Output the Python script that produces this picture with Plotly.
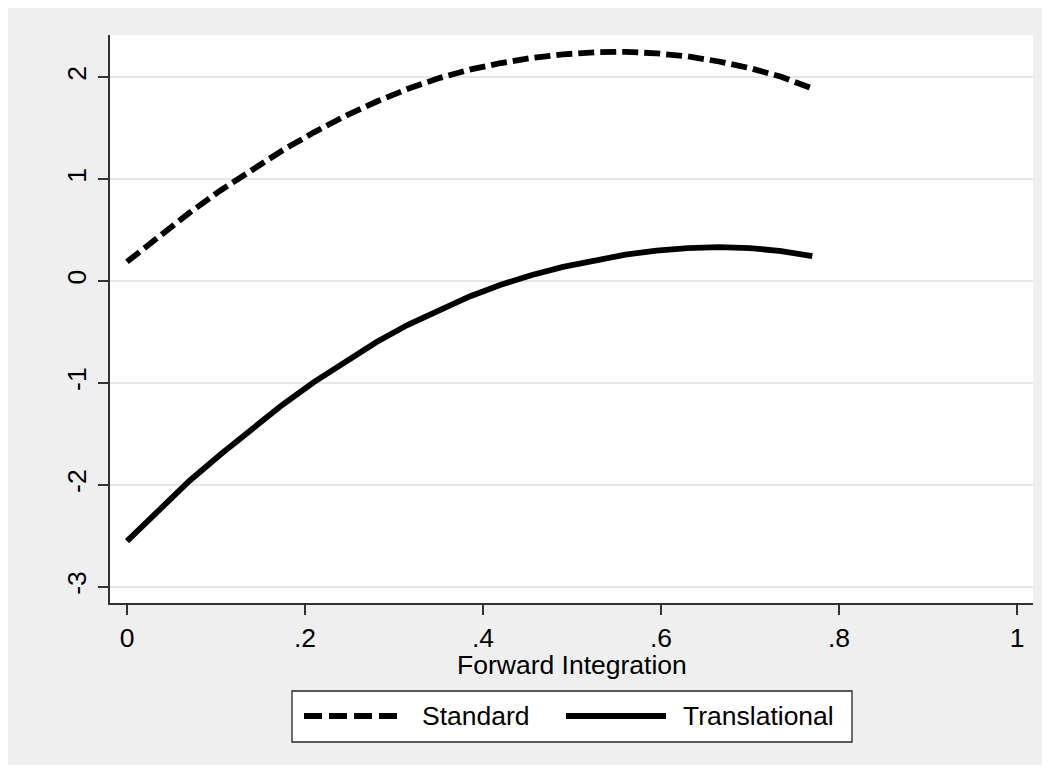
import plotly.graph_objects as go

# ---- data ----
x_vals = [0, 0.035, 0.07, 0.105, 0.14, 0.175, 0.21, 0.245, 0.28, 0.315, 0.35, 0.385,
          0.42, 0.455, 0.49, 0.525, 0.56, 0.595, 0.63, 0.665, 0.70, 0.735, 0.77]
standard = [0.19, 0.435, 0.67, 0.89, 1.095, 1.285, 1.46, 1.62, 1.76, 1.885, 1.99, 2.075,
            2.14, 2.19, 2.225, 2.245, 2.25, 2.235, 2.205, 2.155, 2.09, 2.005, 1.89]
translational = [-2.55, -2.25, -1.96, -1.70, -1.45, -1.21, -0.99, -0.79, -0.60, -0.43, -0.285, -0.15,
                 -0.035, 0.06, 0.14, 0.205, 0.26, 0.30, 0.325, 0.335, 0.325, 0.295, 0.245]
series_names = ["Standard", "Translational"]
x_ticks = [0, 0.2, 0.4, 0.6, 0.8, 1]
x_tick_labels = ["0", ".2", ".4", ".6", ".8", "1"]
y_ticks = [-3, -2, -1, 0, 1, 2]
y_tick_labels = ["-3", "-2", "-1", "0", "1", "2"]
x_title = "Forward Integration"

FONT = "Liberation Sans, Arial, sans-serif"
FS = 26.5
BG = "#efefef"
DASH = "16px,6px"
LW = 5.8

OFF = 8  # page body margin of the browser
W, H = 1050 - OFF, 771 - OFF
L, T = 110 - OFF, 35 - OFF
R = W - (1033 - OFF)
B = H - (603 - OFF)
pw, ph = W - L - R, H - T - B


def px_x(p):
    return (p - OFF - L) / pw


def px_y(p):
    return (H - B - (p - OFF)) / ph


fig = go.Figure()
fig.add_trace(go.Scatter(x=x_vals, y=standard, mode="lines", name=series_names[0],
                         line=dict(color="black", width=LW, dash=DASH), showlegend=False))
fig.add_trace(go.Scatter(x=x_vals, y=translational, mode="lines", name=series_names[1],
                         line=dict(color="black", width=LW), showlegend=False))

shapes = [
    # outer gray graph region
    dict(type="rect", xref="paper", yref="paper", layer="below",
         x0=px_x(5), x1=px_x(1045), y0=px_y(765), y1=px_y(7),
         fillcolor=BG, line=dict(width=0)),
    # white plot region
    dict(type="rect", xref="paper", yref="paper", layer="below",
         x0=0, x1=1, y0=0, y1=1, fillcolor="white", line=dict(width=0)),
    # legend box
    dict(type="rect", xref="paper", yref="paper",
         x0=px_x(292), x1=px_x(852), y0=px_y(742), y1=px_y(691),
         fillcolor="white", line=dict(color="#222222", width=1.3)),
    # legend samples
    dict(type="line", xref="paper", yref="paper",
         x0=px_x(304), x1=px_x(402), y0=px_y(716), y1=px_y(716),
         line=dict(color="black", width=LW, dash="18px,7px")),
    dict(type="line", xref="paper", yref="paper",
         x0=px_x(566), x1=px_x(666), y0=px_y(716), y1=px_y(716),
         line=dict(color="black", width=LW)),
]

annotations = [
    dict(text=x_title, xref="paper", yref="paper", x=px_x(572), y=px_y(665),
         xanchor="center", yanchor="middle", showarrow=False,
         font=dict(family=FONT, size=FS, color="black")),
    dict(text=series_names[0], xref="paper", yref="paper", x=px_x(420), y=px_y(716),
         xanchor="left", yanchor="middle", showarrow=False,
         font=dict(family=FONT, size=FS, color="black")),
    dict(text=series_names[1], xref="paper", yref="paper", x=px_x(681), y=px_y(716),
         xanchor="left", yanchor="middle", showarrow=False,
         font=dict(family=FONT, size=FS, color="black")),
]

fig.update_layout(
    width=W, height=H,
    margin=dict(l=L, r=R, t=T, b=B, pad=0),
    paper_bgcolor="white",
    plot_bgcolor="rgba(0,0,0,0)",
    font=dict(family=FONT, size=FS, color="black"),
    shapes=shapes,
    annotations=annotations,
    showlegend=False,
    xaxis=dict(range=[-17 / 890, 1 + 16 / 890], tickvals=x_ticks, ticktext=x_tick_labels,
               showgrid=False, zeroline=False, showline=True, linecolor="#333333", linewidth=1.5,
               ticks="outside", ticklen=10, tickwidth=1.5, tickcolor="#333333",
               ticklabelstandoff=0,
               tickfont=dict(family=FONT, size=FS, color="black")),
    yaxis=dict(range=[-3 - 16 / 101.94, 2 + 42.3 / 101.94], tickvals=y_ticks, ticktext=y_tick_labels,
               showgrid=True, gridcolor="#e6e6e6", gridwidth=2, zeroline=False,
               showline=True, linecolor="#333333", linewidth=1.5,
               ticks="outside", ticklen=10, tickwidth=1.5, tickcolor="#333333", tickangle=-90,
               ticklabelstandoff=2,
               tickfont=dict(family=FONT, size=FS, color="black")),
)

fig.write_html("out.html")
